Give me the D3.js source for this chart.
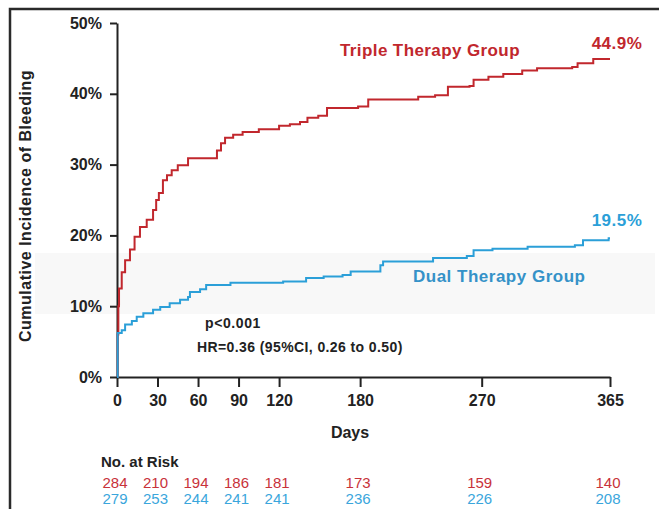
<!DOCTYPE html>
<html>
<head>
<meta charset="utf-8">
<script src="https://cdn.jsdelivr.net/npm/d3@7"></script>
<style>
  body { margin: 0; background: #fff; }
  svg { display: block; font-family: "Liberation Sans", Arial, sans-serif; }
  .axis path, .axis line { stroke: #222; stroke-width: 2px; }
  .axis text { font-size: 16px; font-weight: bold; fill: #222; }
</style>
</head>
<body>
<svg id="chart" width="659" height="509"></svg>
<script>
// Kaplan-Meier cumulative incidence (day, %)
var tripleDays = [0, 0.5, 1, 1.5, 3.5, 6, 9.6, 13, 17, 22, 26.7, 29, 31, 34, 37, 40.5, 45, 52.6, 74, 77, 80, 86, 93, 105, 120, 128, 135.5, 141, 149, 155.5, 178.5, 186, 223, 235.5, 245, 261, 264, 275, 286, 300, 311, 337, 341, 352.6, 365];
var triplePct  = [0, 6, 10, 12.5, 14.8, 16.5, 18, 19.8, 21.2, 22.2, 23.6, 25, 26, 27.8, 28.5, 29.2, 29.9, 30.9, 32, 33, 33.8, 34.2, 34.6, 35.0, 35.5, 35.7, 36.0, 36.6, 36.9, 38.0, 38.2, 39.2, 39.6, 39.8, 41.0, 41.1, 42.0, 42.4, 42.8, 43.3, 43.6, 43.8, 44.3, 44.9, 44.9];

var dualDays = [0, 0.5, 3.5, 6, 11, 14.6, 19.5, 26.7, 32, 39, 46.7, 52.6, 54, 61.5, 66, 84, 123, 140, 153, 167, 173, 195, 197, 234, 259, 264, 278, 304, 339, 345, 364, 365];
var dualPct  = [0, 6.2, 6.6, 7.4, 7.9, 8.5, 9.0, 9.5, 9.9, 10.4, 10.9, 11.3, 12.0, 12.4, 13.0, 13.3, 13.5, 14.0, 14.2, 14.4, 14.9, 15.8, 16.3, 16.8, 17.1, 17.9, 18.1, 18.4, 18.6, 19.3, 19.6, 19.6];

var xTicks = [0, 30, 60, 90, 120, 180, 270, 365];
var yTicks = [0, 10, 20, 30, 40, 50];
var tripleRisk = [284, 210, 194, 186, 181, 173, 159, 140];
var dualRisk   = [279, 253, 244, 241, 241, 236, 226, 208];

var red = "#c1272d", blue = "#2b9fd8";

var svg = d3.select("#chart");

var x = d3.scaleLinear().domain([0, 365]).range([117, 610]);
var y = d3.scaleLinear().domain([0, 50]).range([377, 23]);

// outer frame (only top and left edges are in view)
svg.append("path")
    .attr("d", "M10,510V9H659")
    .attr("fill", "none")
    .attr("stroke", "#2a2a2a")
    .attr("stroke-width", 2.5);

// faint scan band
svg.append("rect")
    .attr("x", 35).attr("y", 253)
    .attr("width", 620).attr("height", 61)
    .attr("fill", "#f8f8f8");

svg.append("g")
    .attr("class", "axis")
    .attr("transform", "translate(0," + y(0) + ")")
    .call(d3.axisBottom(x).tickValues(xTicks).tickSize(10).tickSizeOuter(0).tickPadding(8));

svg.append("g")
    .attr("class", "axis")
    .attr("transform", "translate(" + x(0) + ",0)")
    .call(d3.axisLeft(y).tickValues(yTicks).tickSize(7).tickSizeOuter(0).tickPadding(8)
        .tickFormat(function (d) { return d + "%"; }));

var line = d3.line()
    .x(function (d) { return x(d[0]); })
    .y(function (d) { return y(d[1]); })
    .curve(d3.curveStepAfter);

var triple = d3.zip(tripleDays, triplePct);
var dual = d3.zip(dualDays, dualPct);

svg.append("path")
    .attr("d", line(triple))
    .attr("fill", "none")
    .attr("stroke", red)
    .attr("stroke-width", 2);

svg.append("path")
    .attr("d", line(dual))
    .attr("fill", "none")
    .attr("stroke", blue)
    .attr("stroke-width", 2);

// labels
function label(tx, ty, str, color, size, anchor, spacing) {
  svg.append("text")
      .attr("x", tx).attr("y", ty)
      .attr("fill", color)
      .attr("font-size", size)
      .attr("font-weight", "bold")
      .attr("letter-spacing", spacing || 0)
      .attr("text-anchor", anchor || "start")
      .attr("dominant-baseline", "central")
      .text(str);
}

label(340, 50, "Triple Therapy Group", red, 17, "start", 0.4);
label(617, 43, triplePct[triplePct.length - 1].toFixed(1) + "%", red, 17, "middle", 0.5);
label(413, 276, "Dual Therapy Group", "#3592c8", 17, "start", 0.5);
label(617, 220, "19.5%", blue, 17, "middle", 0.5);

label(205, 323, "p<0.001", "#222", 14, "start", 0.6);
label(197, 347, "HR=0.36 (95%CI, 0.26 to 0.50)", "#222", 14, "start", 0.4);

label(350, 432, "Days", "#222", 16, "middle");

svg.append("text")
    .attr("transform", "translate(25,206) rotate(-90)")
    .attr("text-anchor", "middle")
    .attr("dominant-baseline", "central")
    .attr("font-size", 16)
    .attr("font-weight", "bold")
    .attr("letter-spacing", 0.5)
    .attr("fill", "#222")
    .text("Cumulative Incidence of Bleeding");

// number at risk
label(101, 461, "No. at Risk", "#222", 15);

svg.selectAll(".riskT")
    .data(tripleRisk)
  .enter().append("text")
    .attr("x", function (d, i) { return x(xTicks[i]) - 2; })
    .attr("y", 482)
    .attr("text-anchor", "middle")
    .attr("dominant-baseline", "central")
    .attr("font-size", 15)
    .attr("fill", "#c8323a")
    .text(function (d) { return d; });

svg.selectAll(".riskD")
    .data(dualRisk)
  .enter().append("text")
    .attr("x", function (d, i) { return x(xTicks[i]) - 2; })
    .attr("y", 498)
    .attr("text-anchor", "middle")
    .attr("dominant-baseline", "central")
    .attr("font-size", 15)
    .attr("fill", "#3aa6dc")
    .text(function (d) { return d; });
</script>
</body>
</html>
